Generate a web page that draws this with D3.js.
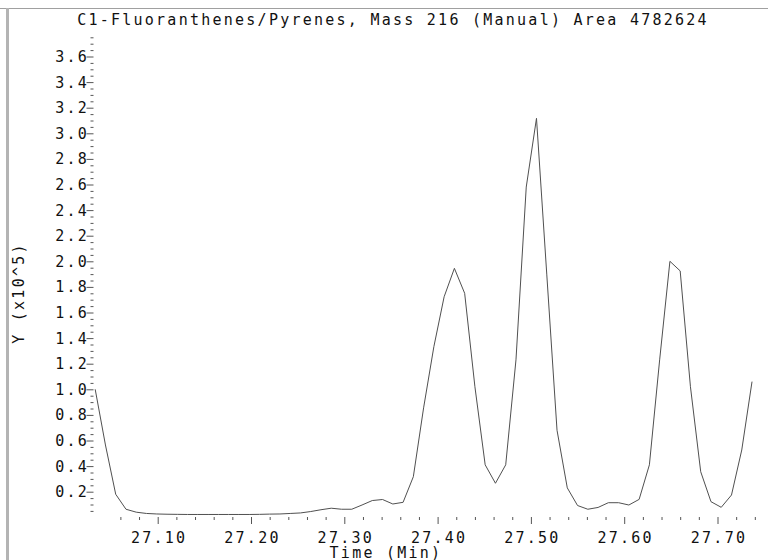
<!DOCTYPE html>
<html>
<head>
<meta charset="utf-8">
<script src="https://cdn.jsdelivr.net/npm/d3@7"></script>
<style>
  html, body { margin: 0; padding: 0; background: #fff; }
  svg { display: block; }
  text { font-family: "DejaVu Sans Mono", "Liberation Mono", monospace; font-size: 15px; fill: #111; letter-spacing: 2.25px; }
</style>
</head>
<body>
<script>
// ---- data ----
const title = "C1-Fluoranthenes/Pyrenes, Mass 216 (Manual) Area 4782624";
const xLabel = "Time (Min)";
const yLabel = "Y (x10^5)";
const times = [
  27.033, 27.044, 27.055, 27.066, 27.077, 27.088, 27.099, 27.110, 27.121, 27.132,
  27.143, 27.154, 27.165, 27.176, 27.187, 27.198, 27.209, 27.220, 27.231, 27.242,
  27.253, 27.264, 27.275, 27.286, 27.297, 27.308, 27.319, 27.330, 27.341, 27.352,
  27.363, 27.374, 27.385, 27.396, 27.407, 27.418, 27.429, 27.440, 27.451, 27.462,
  27.473, 27.484, 27.495, 27.506, 27.517, 27.528, 27.539, 27.550, 27.561, 27.572,
  27.583, 27.594, 27.605, 27.616, 27.627, 27.638, 27.649, 27.660, 27.671, 27.682,
  27.693, 27.704, 27.715, 27.726, 27.737
];
const intensity = [
  1.00, 0.565, 0.18, 0.063, 0.040, 0.030, 0.026, 0.024, 0.023, 0.022,
  0.022, 0.022, 0.022, 0.022, 0.022, 0.022, 0.023, 0.025, 0.026, 0.030,
  0.034, 0.045, 0.059, 0.071, 0.063, 0.063, 0.096, 0.131, 0.139, 0.104,
  0.117, 0.317, 0.855, 1.333, 1.723, 1.945, 1.750, 1.020, 0.410, 0.266,
  0.410, 1.230, 2.580, 3.117, 1.900, 0.680, 0.230, 0.092, 0.063, 0.077,
  0.114, 0.114, 0.096, 0.140, 0.410, 1.230, 2.000, 1.925, 1.020, 0.356,
  0.122, 0.078, 0.174, 0.526, 1.060
];
const xMajorTicks = [27.10, 27.20, 27.30, 27.40, 27.50, 27.60, 27.70];
const xTickLabels = ["27.10", "27.20", "27.30", "27.40", "27.50", "27.60", "27.70"];
const yMajorTicks = [0.2, 0.4, 0.6, 0.8, 1.0, 1.2, 1.4, 1.6, 1.8, 2.0, 2.2, 2.4, 2.6, 2.8, 3.0, 3.2, 3.4, 3.6];
const yTickLabels = ["0.2", "0.4", "0.6", "0.8", "1.0", "1.2", "1.4", "1.6", "1.8", "2.0", "2.2", "2.4", "2.6", "2.8", "3.0", "3.2", "3.4", "3.6"];

// ---- layout ----
const W = 768, H = 560;
const svg = d3.select("body").append("svg").attr("width", W).attr("height", H);

// x: 27.10 -> 157.7 px, 93.3 px per 0.1 min
const x = d3.scaleLinear().domain([27.10, 27.70]).range([157.7, 717.5]);
// y: 0 -> 517.3 px, 128 px per unit
const y = d3.scaleLinear().domain([0, 3.6]).range([517.3, 56.5]);

// frame
svg.append("line").attr("x1", 0).attr("x2", W).attr("y1", 8.5).attr("y2", 8.5)
  .attr("stroke", "#a0a0a0").attr("stroke-width", 1);
svg.append("rect").attr("x", 6).attr("y", 8).attr("width", 3).attr("height", H - 8)
  .attr("fill", "#b4b4b4");

// title
svg.append("text").attr("x", 393).attr("y", 25).attr("text-anchor", "middle").text(title);

// y minor ticks
const yMinor = d3.range(1, 76).map(i => i * 0.05).filter(v => !yMajorTicks.some(m => Math.abs(m - v) < 1e-6));
const yAxisMinor = d3.axisLeft(y).tickValues(yMinor).tickSize(3).tickFormat("");
const gyMinor = svg.append("g").attr("transform", "translate(93.5,0)").call(yAxisMinor);
gyMinor.select(".domain").remove();
gyMinor.selectAll("line").attr("stroke", "#555");

// y major ticks
const yAxisMajor = d3.axisLeft(y).tickValues(yMajorTicks).tickSize(7)
  .tickFormat((d, i) => yTickLabels[i]).tickPadding(1);
const gy = svg.append("g").attr("transform", "translate(93.5,0)").call(yAxisMajor);
gy.select(".domain").remove();
gy.selectAll("line").attr("stroke", "#555");
gy.selectAll("text").attr("font-family", null).attr("font-size", null)
  .attr("dy", "0.33em").attr("x", -4.5);

// x minor ticks
const xMinor = d3.range(2, 37).map(i => 27.02 + i * 0.02).filter(v => !xMajorTicks.some(m => Math.abs(m - v) < 1e-6));
const xAxisMinor = d3.axisBottom(x).tickValues(xMinor).tickSize(3).tickFormat("");
const gxMinor = svg.append("g").attr("transform", "translate(0,517)").call(xAxisMinor);
gxMinor.select(".domain").remove();
gxMinor.selectAll("line").attr("stroke", "#555");

const xAxisMajor = d3.axisBottom(x).tickValues(xMajorTicks).tickSize(7)
  .tickFormat((d, i) => xTickLabels[i]).tickPadding(8);
const gx = svg.append("g").attr("transform", "translate(0,517)").call(xAxisMajor);
gx.select(".domain").remove();
gx.selectAll("line").attr("stroke", "#555");
gx.selectAll("text").attr("font-family", null).attr("font-size", null).attr("dx", "1px");

// axis titles
svg.append("text").attr("x", 386).attr("y", 557.5).attr("text-anchor", "middle").text(xLabel);
svg.append("text").attr("transform", "translate(24,293) rotate(-90)").attr("text-anchor", "middle").text(yLabel);

// curve
const line = d3.line().x((d, i) => x(times[i])).y(d => y(d));
svg.append("path").datum(intensity).attr("d", line)
  .attr("fill", "none").attr("stroke", "#505050").attr("stroke-width", 1);
</script>
</body>
</html>
